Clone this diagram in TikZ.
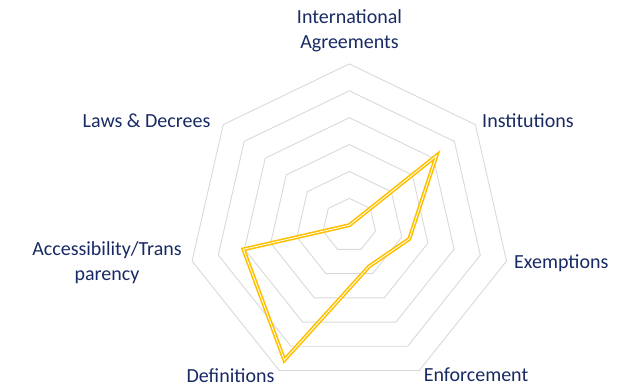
\documentclass[tikz,border=0pt]{standalone}
\usepackage{fontspec}
\setmainfont{Carlito}
\usepackage{xcolor}
\definecolor{gridgray}{RGB}{217,217,217}
\definecolor{labelblue}{RGB}{24,42,100}
\definecolor{seriesgold}{RGB}{255,192,0}
\usepackage{tikz}
\newcommand{\ringstep}{26.88pt}
\newcommand{\heptagon}[1]{(90:#1) -- (38.571:#1) -- (-12.857:#1) -- (-64.286:#1) -- (-115.714:#1) -- (-167.143:#1) -- (141.429:#1) -- cycle}
\tikzset{
    ring/.style={draw=gridgray, line width=0.9pt},
    series/.style={draw=seriesgold, line width=1.6pt, double=white, double distance=0.8pt, line join=miter},
    axislabel/.style={text=labelblue, font=\fontsize{20}{25}\selectfont, align=center, inner sep=0pt}
}
\begin{document}
\begin{tikzpicture}
    \useasboundingbox (-349.3pt,-162.8pt) rectangle (284.7pt,225.2pt);

    \foreach \k in {1,...,6}
        \draw[ring] \heptagon{\k*\ringstep};

    \coordinate (v-agreements) at (90:0);
    \coordinate (v-institutions) at (38.571:4.15*\ringstep);
    \coordinate (v-exemptions) at (-12.857:2.29*\ringstep);
    \coordinate (v-enforcement) at (-64.286:1.70*\ringstep);
    \coordinate (v-definitions) at (-115.714:5.57*\ringstep);
    \coordinate (v-access) at (-167.143:4.04*\ringstep);
    \coordinate (v-laws) at (141.429:0);

    \draw[series]
      (v-agreements) -- (v-institutions) -- (v-exemptions) -- (v-enforcement)
      -- (v-definitions) -- (v-access) -- (v-laws) -- cycle;

    \path
      node[axislabel] (l-agreements) at (0.2pt,194.4pt) {International\\Agreements}
      node[axislabel] (l-institutions) at (178.7pt,104.2pt) {Institutions}
      node[axislabel] (l-exemptions) at (212pt,-37.5pt) {Exemptions}
      node[axislabel] (l-enforcement) at (126.7pt,-149.8pt) {Enforcement}
      node[axislabel] (l-definitions) at (-118.8pt,-150.8pt) {Definitions}
      node[axislabel] (l-access) at (-242.3pt,-37.3pt) {Accessibility/Trans\\parency}
      node[axislabel] (l-laws) at (-202.8pt,104.2pt) {Laws \& Decrees};
\end{tikzpicture}
\end{document}
